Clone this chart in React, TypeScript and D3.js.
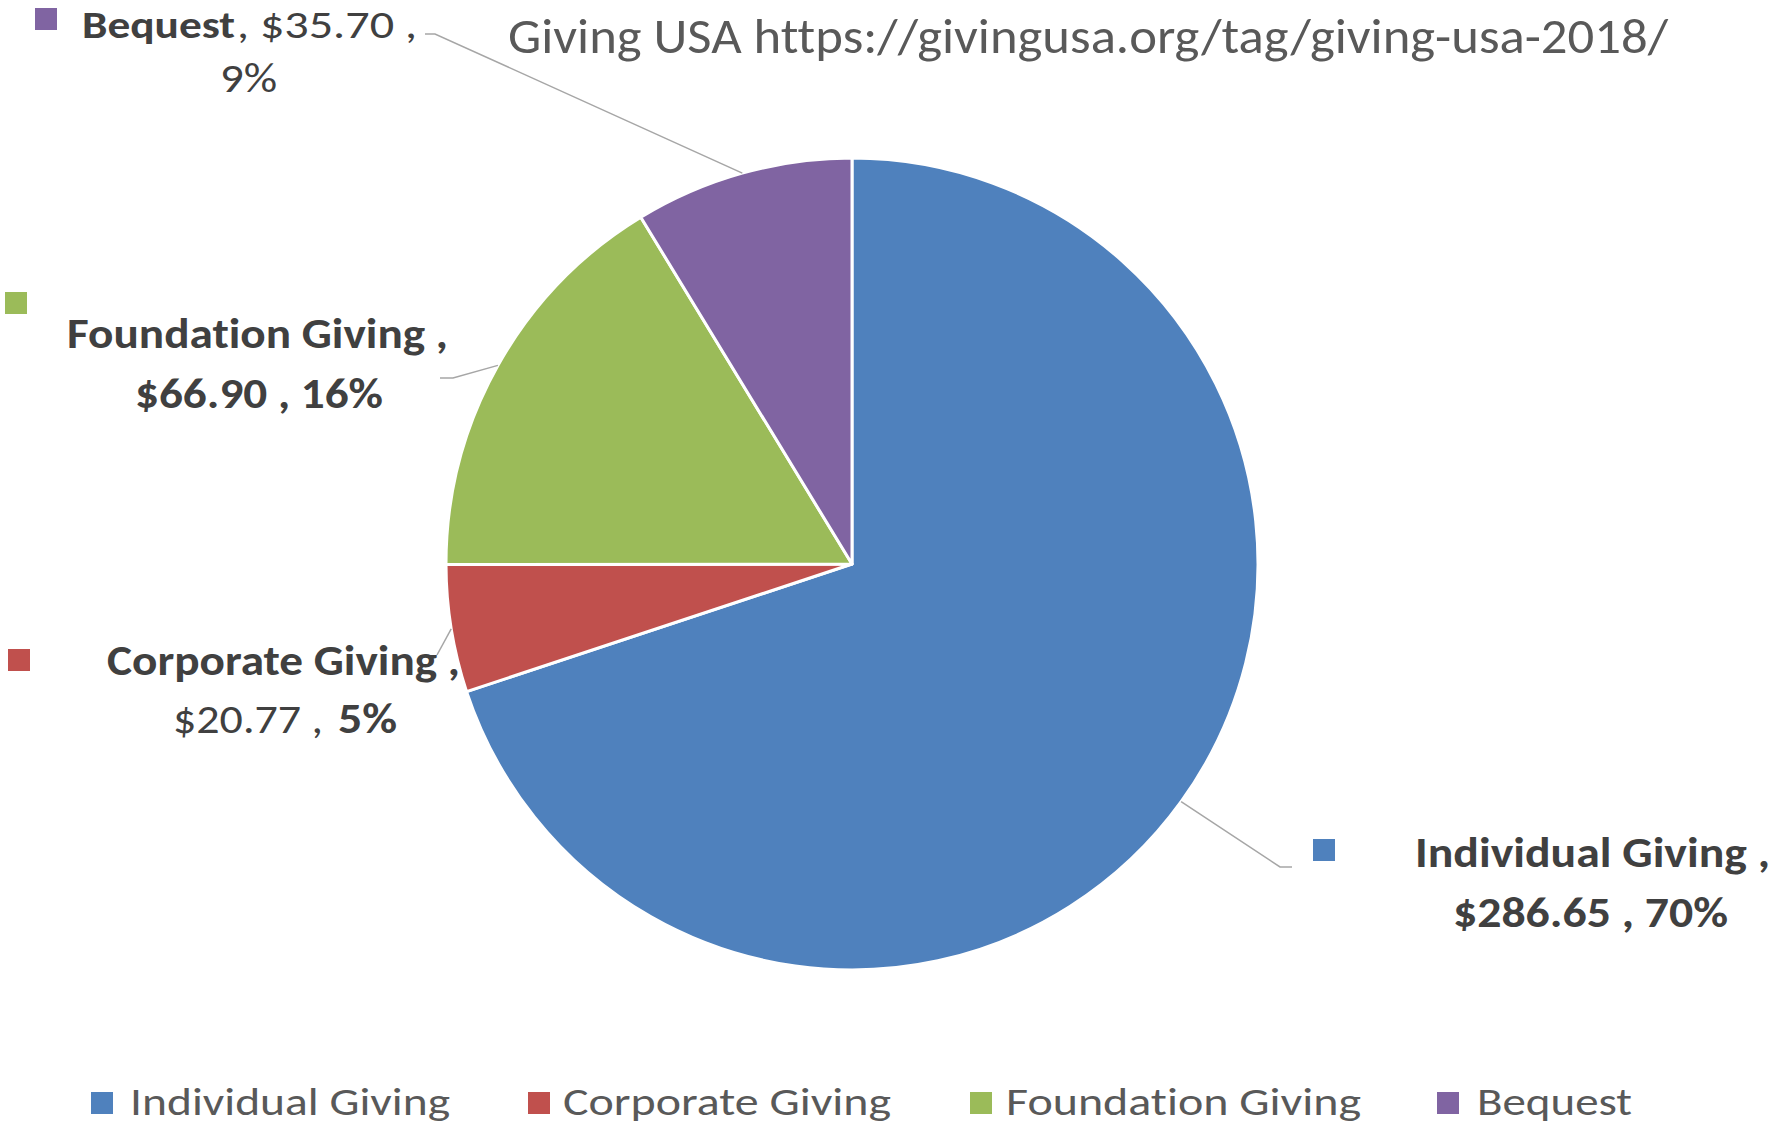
import React from "react";
import * as d3 from "d3";

const categories = ["Individual Giving", "Corporate Giving", "Foundation Giving", "Bequest"];
const values = [286.65, 20.77, 66.9, 35.7];
const colors = ["#4F81BD", "#C0504D", "#9BBB59", "#8064A2"];
const title = "Giving USA https://givingusa.org/tag/giving-usa-2018/";

const W = 1773;
const H = 1124;
const FONT = "Carlito, Calibri, Lato, 'Open Sans', sans-serif";
const LABEL_COLOR = "#404040";
const MUTED = "#595959";
const LEADER = "#A6A6A6";

type Seg = { text: string; bold: boolean; x: number; w: number };
type LabelLayout = {
  square: [number, number];
  lines: { y: number; size: number; segs: Seg[] }[];
  leader: [number, number][]; // label-side points; last point is the arc centroid on the rim
};

const fmtMoney = d3.format("$.2f");
const fmtPct = d3.format(".0%");

export default function App() {
  React.useEffect(() => {
    document.body.style.margin = "0";
    document.body.style.overflow = "hidden";
  }, []);

  const cx = 852;
  const cy = 564;
  const r = 406;
  const total = d3.sum(values);
  const pie = d3.pie<number>().sort(null).value((d) => d)(values);
  const arc = d3.arc<d3.PieArcDatum<number>>().innerRadius(0).outerRadius(r);
  const rimArc = d3.arc<d3.PieArcDatum<number>>().innerRadius(r).outerRadius(r);

  const money = values.map((v) => fmtMoney(v));
  const pct = values.map((v) => fmtPct(v / total));

  const layouts: LabelLayout[] = [
    {
      square: [1313, 839],
      lines: [
        { y: 867, size: 42, segs: [{ text: `${categories[0]} ,`, bold: true, x: 1415, w: 355 }] },
        { y: 927, size: 42, segs: [{ text: `${money[0]} , ${pct[0]}`, bold: true, x: 1453, w: 275 }] },
      ],
      leader: [[1292, 867], [1280, 867]],
    },
    {
      square: [8, 649],
      lines: [
        { y: 675, size: 42, segs: [{ text: `${categories[1]} ,`, bold: true, x: 107, w: 353 }] },
        {
          y: 733,
          size: 42,
          segs: [
            { text: `${money[1]} ,`, bold: false, x: 173, w: 150 },
            { text: pct[1], bold: true, x: 338, w: 59 },
          ],
        },
      ],
      leader: [[437, 655]],
    },
    {
      square: [5, 292],
      lines: [
        { y: 348, size: 42, segs: [{ text: `${categories[2]} ,`, bold: true, x: 67, w: 381 }] },
        { y: 408, size: 42, segs: [{ text: `${money[2]} , ${pct[2]}`, bold: true, x: 135, w: 248 }] },
      ],
      leader: [[440, 378], [453, 378]],
    },
    {
      square: [35, 8],
      lines: [
        {
          y: 38,
          size: 38,
          segs: [
            { text: categories[3], bold: true, x: 82, w: 153 },
            { text: `, ${money[3]} ,`, bold: false, x: 237, w: 180 },
          ],
        },
        { y: 92, size: 42, segs: [{ text: pct[3], bold: false, x: 220, w: 57 }] },
      ],
      leader: [[425, 34], [435, 34]],
    },
  ];

  const legendItems = [
    { sq: 91, tx: 130, w: 320 },
    { sq: 528, tx: 563, w: 328 },
    { sq: 970, tx: 1006, w: 355 },
    { sq: 1437, tx: 1477, w: 155 },
  ];

  return (
    <svg
      width={W}
      height={H}
      style={{
        position: "absolute",
        left: 0,
        top: 0,
        display: "block",
        background: "#fff",
        fontVariantLigatures: "none",
      }}
      fontFamily={FONT}
    >
      <rect x={0} y={0} width={W} height={H} fill="#fff" />
      <text
        x={508}
        y={53}
        fontSize={49}
        fill={MUTED}
        textLength={1160}
        lengthAdjust="spacingAndGlyphs"
      >
        {title}
      </text>

      <g transform={`translate(${cx},${cy})`}>
        {pie.map((p, i) => (
          <path key={i} d={arc(p) || ""} fill={colors[i]} stroke="#fff" strokeWidth={3} strokeLinejoin="round" />
        ))}
      </g>

      {pie.map((p, i) => {
        const [rx, ry] = rimArc.centroid(p);
        const pts = [...layouts[i].leader, [cx + rx, cy + ry]] as [number, number][];
        return (
          <path
            key={`l${i}`}
            d={d3.line()(pts) || ""}
            fill="none"
            stroke={LEADER}
            strokeWidth={1.5}
          />
        );
      })}

      {layouts.map((L, i) => (
        <g key={`lab${i}`}>
          <rect x={L.square[0]} y={L.square[1]} width={22} height={22} fill={colors[i]} />
          {L.lines.map((ln, j) =>
            ln.segs.map((s, k) => (
              <text
                key={`${j}-${k}`}
                x={s.x}
                y={ln.y}
                fontSize={ln.size}
                fontWeight={s.bold ? 700 : 400}
                fill={LABEL_COLOR}
                textLength={s.w}
                lengthAdjust="spacingAndGlyphs"
              >
                {s.text}
              </text>
            ))
          )}
        </g>
      ))}

      {categories.map((c, i) => (
        <g key={`leg${i}`}>
          <rect x={legendItems[i].sq} y={1092} width={22} height={22} fill={colors[i]} />
          <text
            x={legendItems[i].tx}
            y={1115}
            fontSize={39}
            fill={MUTED}
            textLength={legendItems[i].w}
            lengthAdjust="spacingAndGlyphs"
          >
            {c}
          </text>
        </g>
      ))}
    </svg>
  );
}
